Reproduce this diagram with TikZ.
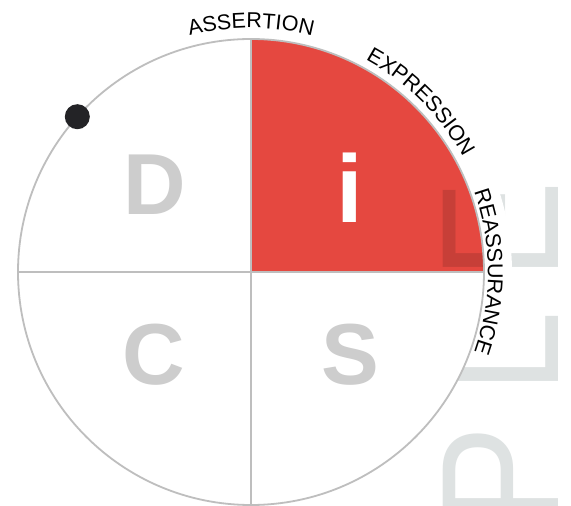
\documentclass[tikz,border=0pt]{standalone}
\usepackage{fontspec}
\setmainfont{Liberation Sans}
\usetikzlibrary{decorations.text,calc}
\definecolor{discred}{RGB}{229,72,64}
\definecolor{linegray}{RGB}{190,190,190}
\definecolor{lettergray}{RGB}{205,205,205}
\definecolor{wmgray}{RGB}{222,226,226}
\definecolor{dotblack}{RGB}{35,35,38}
\newcommand{\labelfont}{\fontsize{21.5}{24}\selectfont}
\tikzset{
  quadletter/.style={inner sep=0pt, anchor=base, text=lettergray, font=\bfseries\fontsize{86.6}{90}\selectfont},
  wmtext/.style={inner sep=0pt, text=wmgray, font=\fontsize{167.6}{170}\selectfont},
  rim/.style={draw=linegray, line width=1.8pt},
  dotmark/.style={circle, fill=dotblack, inner sep=0pt, minimum size=25pt},
  arclabel/.style={decorate, decoration={text along path, text align=center, text={#1}}}
}
\begin{document}
\begin{tikzpicture}[x=1pt,y=1pt]
\useasboundingbox (0,0) rectangle (571,506);
\fill[white] (0,0) rectangle (571,506);
\coordinate (c) at (251,234);
\def\R{233}
% watermark
\node[wmtext, rotate=90, xscale=0.88, anchor=base west] (wm) at (558,-18.4) {P\hspace{36.6pt}L\hspace{36.6pt}E};
% white band behind the right label
\draw[white, line width=28pt] ([shift={(c)}]21:247) arc[start angle=21, end angle=-21, radius=247];
% quadrants
\fill[white] (c) -- ([shift={(c)}]90:\R) arc[start angle=90, end angle=360, radius=\R] -- cycle;
\begin{scope}[blend mode=multiply]
\fill[discred] (c) -- ([shift={(c)}]0:\R) arc[start angle=0, end angle=90, radius=\R] -- cycle;
\end{scope}
% rim and dividers
\coordinate (top) at ([shift={(c)}]90:\R);
\coordinate (bottom) at ([shift={(c)}]270:\R);
\coordinate (left) at ([shift={(c)}]180:\R);
\coordinate (right) at ([shift={(c)}]0:\R);
\draw[rim] (top) -- (bottom);
\draw[rim] (left) -- (right);
\draw[rim] (c) circle[radius=\R];
% letters
\node[quadletter] (D) at (154.5,291) {D};
\node[quadletter, text=white, font=\bfseries\fontsize{96}{100}\selectfont] (i) at (349.5,283) {i};
\node[quadletter] (C) at (153.5,121) {C};
\node[quadletter] (S) at (350,121) {S};
% dot on the rim
\node[dotmark] (dot) at ([shift={(c)}]138.2:\R) {};
% labels along the rim
\path[arclabel={|\labelfont|ASSERTION}] ([shift={(c)}]120:244) arc[start angle=120, end angle=60, radius=244];
\path[arclabel={|\labelfont|EXPRESSION}] ([shift={(c)}]76:241) arc[start angle=76, end angle=14, radius=241];
\path[arclabel={|\labelfont|REASSURANCE}] ([shift={(c)}]32:237) arc[start angle=32, end angle=-32, radius=237];
\end{tikzpicture}
\end{document}
